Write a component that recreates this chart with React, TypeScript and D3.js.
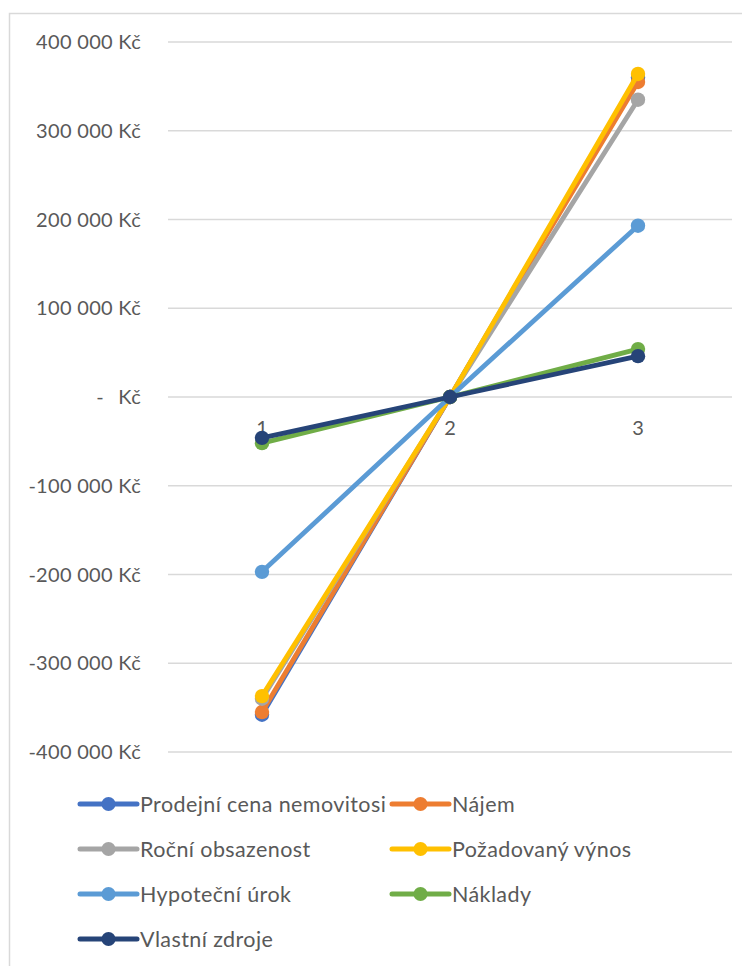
import React from "react";
import * as d3 from "d3";

const categories = [1, 2, 3];
const seriesNames = [
  "Prodejní cena nemovitosi",
  "Nájem",
  "Roční obsazenost",
  "Požadovaný výnos",
  "Hypoteční úrok",
  "Náklady",
  "Vlastní zdroje",
];
const seriesColors = ["#4472C4", "#ED7D31", "#A5A5A5", "#FFC000", "#5B9BD5", "#70AD47", "#264478"];
const prodejniCena = [-358000, 0, 360000];
const najem = [-355000, 0, 355000];
const rocniObsazenost = [-340000, 0, 335000];
const pozadovanyVynos = [-337000, 0, 364000];
const hypotecniUrok = [-197000, 0, 193000];
const naklady = [-52000, 0, 54000];
const vlastniZdroje = [-46000, 0, 46000];
const seriesValues = [prodejniCena, najem, rocniObsazenost, pozadovanyVynos, hypotecniUrok, naklady, vlastniZdroje];
const yTicks = [400000, 300000, 200000, 100000, 0, -100000, -200000, -300000, -400000];

const FONT = "Lato, 'Open Sans', sans-serif";
const TEXT = "#595959";

function fmt(v: number) {
  if (v === 0) return null;
  const s = Math.abs(v).toString().replace(/\B(?=(\d{3})+(?!\d))/g, " ");
  return (v < 0 ? "-" : "") + s + " Kč";
}

export default function App() {
  const W = 742;
  const H = 958;
  const left = 160;
  const right = 724;
  const x = d3.scaleBand<number>().domain(categories).range([left, right]);
  const y = d3.scaleLinear().domain([-400000, 400000]).range([744, 34]);
  const line = d3
    .line<number>()
    .x((_, i) => (x(categories[i]) as number) + x.bandwidth() / 2)
    .y((d) => y(d));
  const labelX = 133;
  const tickFs = 20;
  const tickLs = 0.3;

  const legendRows = [796, 841, 886, 931];
  const legendCols = [72, 384];
  const legendFs = 21.5;

  return (
    <svg width={W} height={H} style={{ display: "block" }} fontFamily={FONT}>
      <rect x={1.5} y={5.5} width={W + 10} height={H + 10} fill="#fff" stroke="#D9D9D9" strokeWidth={1.5} />
      {yTicks.map((t) => (
        <g key={t}>
          <line x1={left} x2={right} y1={y(t)} y2={y(t)} stroke="#D9D9D9" strokeWidth={1.3} />
          {t === 0 ? (
            <>
              <text x={labelX - 41} y={y(t)} dy="0.35em" fontSize={tickFs} fill={TEXT} textAnchor="middle">-</text>
              <text x={labelX} y={y(t)} dy="0.35em" fontSize={tickFs} letterSpacing={tickLs} fill={TEXT} textAnchor="end">Kč</text>
            </>
          ) : (
            <text x={labelX} y={y(t)} dy="0.35em" fontSize={tickFs} letterSpacing={tickLs} fill={TEXT} textAnchor="end">
              {fmt(t)}
            </text>
          )}
        </g>
      ))}
      {categories.map((c) => (
        <text
          key={c}
          x={(x(c) as number) + x.bandwidth() / 2}
          y={y(0) + 38}
          fontSize={tickFs}
          fill={TEXT}
          textAnchor="middle"
        >
          {c}
        </text>
      ))}
      {seriesValues.map((vals, si) => (
        <g key={si}>
          <path d={line(vals) || ""} fill="none" stroke={seriesColors[si]} strokeWidth={4.8} strokeLinejoin="round" />
          {vals.map((v, i) => (
            <circle
              key={i}
              cx={(x(categories[i]) as number) + x.bandwidth() / 2}
              cy={y(v)}
              r={7.2}
              fill={seriesColors[si]}
            />
          ))}
        </g>
      ))}
      {seriesNames.map((name, i) => {
        const col = i % 2;
        const row = Math.floor(i / 2);
        const lx = legendCols[col];
        const ly = legendRows[row];
        return (
          <g key={name}>
            <line x1={lx} x2={lx + 57} y1={ly} y2={ly} stroke={seriesColors[i]} strokeWidth={5} strokeLinecap="round" />
            <circle cx={lx + 28.5} cy={ly} r={7} fill={seriesColors[i]} />
            <text x={lx + 60} y={ly} dy="0.35em" fontSize={legendFs} letterSpacing={0.4} fill={TEXT}>
              {name}
            </text>
          </g>
        );
      })}
    </svg>
  );
}
